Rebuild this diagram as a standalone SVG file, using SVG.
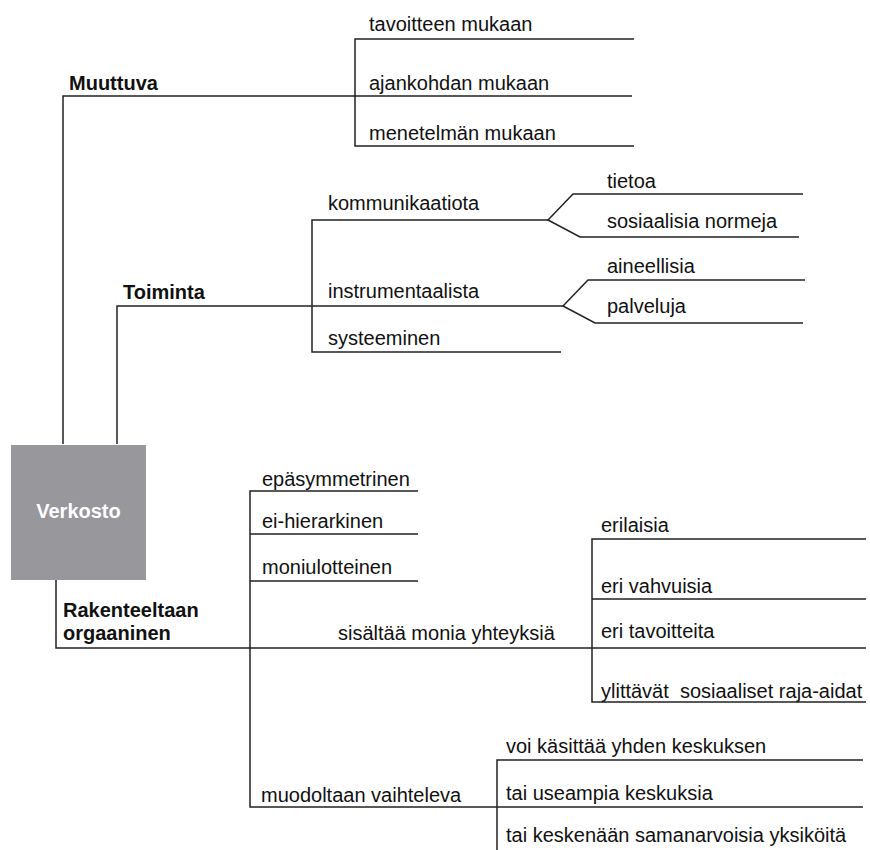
<svg xmlns="http://www.w3.org/2000/svg" width="870" height="850" viewBox="0 0 870 850">
<style>
text{font-family:"Liberation Sans",Arial,sans-serif;font-size:20px;fill:#111}
.b{font-weight:bold}
.w{fill:#fff;font-weight:bold}
.c path{fill:none;stroke:#222;stroke-width:1.5}
</style>
<rect width="870" height="850" fill="#fff"/>
<g class="c" id="connectors">
<path d="M63,444 V96 H632"/>
<path d="M634,39 H355 V146 H634"/>
<path d="M117,444 V306 H563"/>
<path d="M548,220 H312 V352 H561"/>
<path d="M803,194 H573 L548,220 L580,237 H799"/>
<path d="M805,280 H588 L563,306 L595,323 H803"/>
<path d="M56,580 V648 H592"/>
<path d="M418,491 H250 V807 H497"/>
<path d="M250,534 H418 M250,581 H418"/>
<path d="M866,539 H592 V702 H866 M592,599 H866 M592,648 H866"/>
<path d="M863,760 H497 V850 M497,807 H863"/>
</g>
<g id="verkosto"><rect x="11" y="445" width="135" height="135" fill="#98979c"/><text class="w" x="78.5" y="518" text-anchor="middle">Verkosto</text></g>
<g id="muuttuva"><text class="b" x="69" y="90">Muuttuva</text></g>
<g id="tavoitteen"><text x="369" y="31">tavoitteen mukaan</text></g>
<g id="ajankohdan"><text x="369" y="90">ajankohdan mukaan</text></g>
<g id="menetelman"><text x="369" y="140">menetelmän mukaan</text></g>
<g id="toiminta"><text class="b" x="123" y="299">Toiminta</text></g>
<g id="kommunikaatiota"><text x="328" y="210">kommunikaatiota</text></g>
<g id="instrumentaalista"><text x="328" y="298">instrumentaalista</text></g>
<g id="systeeminen"><text x="328" y="345">systeeminen</text></g>
<g id="tietoa"><text x="607" y="188">tietoa</text></g>
<g id="sosiaalisia"><text x="607" y="228">sosiaalisia normeja</text></g>
<g id="aineellisia"><text x="607" y="273">aineellisia</text></g>
<g id="palveluja"><text x="607" y="313">palveluja</text></g>
<g id="epasymmetrinen"><text x="262" y="486">epäsymmetrinen</text></g>
<g id="eihierarkinen"><text x="262" y="528">ei-hierarkinen</text></g>
<g id="moniulotteinen"><text x="262" y="574">moniulotteinen</text></g>
<g id="rakenteeltaan"><text class="b" x="63" y="617">Rakenteeltaan</text><text class="b" x="63" y="640">orgaaninen</text></g>
<g id="sisaltaa"><text x="338" y="640">sisältää monia yhteyksiä</text></g>
<g id="erilaisia"><text x="601" y="532">erilaisia</text></g>
<g id="erivahvuisia"><text x="601" y="593">eri vahvuisia</text></g>
<g id="eritavoitteita"><text x="601" y="638">eri tavoitteita</text></g>
<g id="ylittavat"><text x="601" y="698" xml:space="preserve">ylittävät  sosiaaliset raja-aidat</text></g>
<g id="muodoltaan"><text x="261" y="802">muodoltaan vaihteleva</text></g>
<g id="voi"><text x="506" y="753">voi käsittää yhden keskuksen</text></g>
<g id="useampia"><text x="506" y="800">tai useampia keskuksia</text></g>
<g id="keskenaan"><text x="506" y="842">tai keskenään samanarvoisia yksiköitä</text></g>
</svg>
